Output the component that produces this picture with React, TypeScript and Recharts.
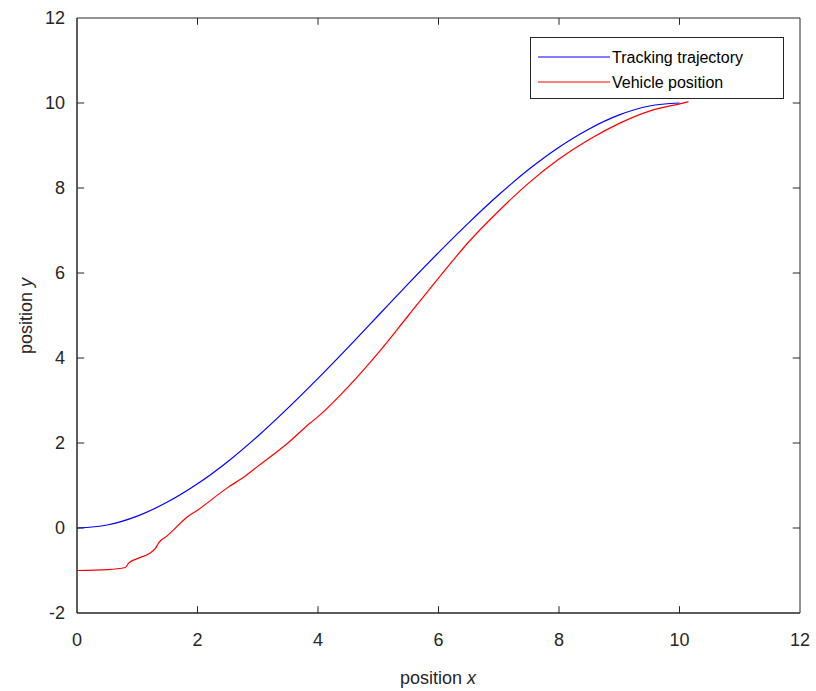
import React from "react";
import { LineChart, Line, XAxis, YAxis, ReferenceArea, ReferenceLine } from "recharts";

// tracking reference (blue)
const trackX = [0, 0.5, 1, 1.5, 2, 2.5, 3, 3.5, 4, 4.5, 5, 5.5, 6, 6.5, 7, 7.5, 8, 8.5, 9, 9.5, 10];
const trackY = [0, 0.07, 0.28, 0.61, 1.04, 1.56, 2.16, 2.82, 3.52, 4.25, 5.0, 5.75, 6.48, 7.18, 7.84, 8.44, 8.96, 9.39, 9.72, 9.93, 10.0];

// vehicle position (red)
const vehX = [0, 0.5, 0.8, 0.86, 1.0, 1.2, 1.3, 1.36, 1.5, 1.83, 2.0, 2.5, 2.77, 3, 3.5, 3.87, 4, 4.5, 5, 5.5, 6, 6.5, 7, 7.5, 8, 8.5, 9, 9.5, 10, 10.15];
const vehY = [-1, -0.98, -0.93, -0.82, -0.72, -0.6, -0.48, -0.34, -0.18, 0.26, 0.42, 0.95, 1.2, 1.45, 2.0, 2.47, 2.62, 3.32, 4.12, 5.0, 5.88, 6.73, 7.46, 8.12, 8.68, 9.14, 9.52, 9.81, 9.98, 10.03];

const xTicks = [0, 2, 4, 6, 8, 10, 12];
const yTicks = [-2, 0, 2, 4, 6, 8, 10, 12];

const track = trackX.map((x, i) => ({ x, y: trackY[i] }));
const vehicle = vehX.map((x, i) => ({ x, y: vehY[i] }));

const INK = "#262626";
const FONT = "'Liberation Sans', Arial, sans-serif";
// inward tick length in data units (~7px)
const TX = 0.12;
const TY = 0.16;

const LegendBox = () => (
  <svg width={254} height={62} style={{ display: "block" }}>
    <rect x={0.5} y={0.5} width={253} height={61} fill="#fff" stroke={INK} strokeWidth={1} />
    <line x1={8} x2={80} y1={20} y2={20} stroke="#0000ff" strokeWidth={1.2} />
    <line x1={8} x2={80} y1={45} y2={45} stroke="#ff0000" strokeWidth={1.2} />
    <text x={82} y={26} fontSize={16} fontFamily={FONT} fill="#000">Tracking trajectory</text>
    <text x={82} y={51} fontSize={16} fontFamily={FONT} fill="#000">Vehicle position</text>
  </svg>
);

export default function App() {
  const tickSeg = (key: string, a: { x: number; y: number }, b: { x: number; y: number }) => (
    <ReferenceLine key={key} segment={[a, b]} stroke={INK} strokeWidth={1} ifOverflow="visible" />
  );
  return (
    <div style={{ position: "absolute", left: 0, top: 0, width: 816, height: 691, background: "#fff" }}>
      <LineChart width={816} height={691} margin={{ top: 18, right: 16, bottom: 0, left: 0 }}>
        <XAxis
          dataKey="x"
          type="number"
          domain={[0, 12]}
          ticks={xTicks}
          allowDataOverflow
          height={78}
          tickSize={0}
          tickLine={false}
          tickMargin={20}
          stroke={INK}
          tick={{ fill: INK, fontSize: 18, fontFamily: FONT }}
          label={{
            content: () => (
              <text x={438} y={684} textAnchor="middle" fontSize={18} fontFamily={FONT} fill={INK}>
                position <tspan fontStyle="italic">x</tspan>
              </text>
            ),
          }}
        />
        <YAxis
          dataKey="y"
          type="number"
          domain={[-2, 12]}
          ticks={yTicks}
          allowDataOverflow
          width={77}
          tickSize={0}
          tickLine={false}
          tickMargin={12}
          stroke={INK}
          tick={{ fill: INK, fontSize: 18, fontFamily: FONT }}
          label={{
            content: () => (
              <text
                x={27}
                y={316}
                transform="rotate(-90 27 316)"
                textAnchor="middle"
                dominantBaseline="middle"
                fontSize={18}
                fontFamily={FONT}
                fill={INK}
              >
                position <tspan fontStyle="italic">y</tspan>
              </text>
            ),
          }}
        />
        <ReferenceArea x1={0} x2={12} y1={-2} y2={12} fill="none" stroke={INK} strokeWidth={1} ifOverflow="visible" />
        {xTicks.slice(1, -1).map((t) => tickSeg("b" + t, { x: t, y: -2 }, { x: t, y: -2 + TY }))}
        {xTicks.slice(1, -1).map((t) => tickSeg("t" + t, { x: t, y: 12 }, { x: t, y: 12 - TY }))}
        {yTicks.slice(1, -1).map((t) => tickSeg("l" + t, { x: 0, y: t }, { x: TX, y: t }))}
        {yTicks.slice(1, -1).map((t) => tickSeg("r" + t, { x: 12, y: t }, { x: 12 - TX, y: t }))}
        <Line
          data={track}
          dataKey="y"
          type="monotone"
          stroke="#0000ff"
          strokeWidth={1.2}
          dot={false}
          isAnimationActive={false}
          name="Tracking trajectory"
        />
        <Line
          data={vehicle}
          dataKey="y"
          type="monotone"
          stroke="#ff0000"
          strokeWidth={1.2}
          dot={false}
          isAnimationActive={false}
          name="Vehicle position"
        />
      </LineChart>
      <div style={{ position: "absolute", left: 530, top: 37 }}>
        <LegendBox />
      </div>
    </div>
  );
}
